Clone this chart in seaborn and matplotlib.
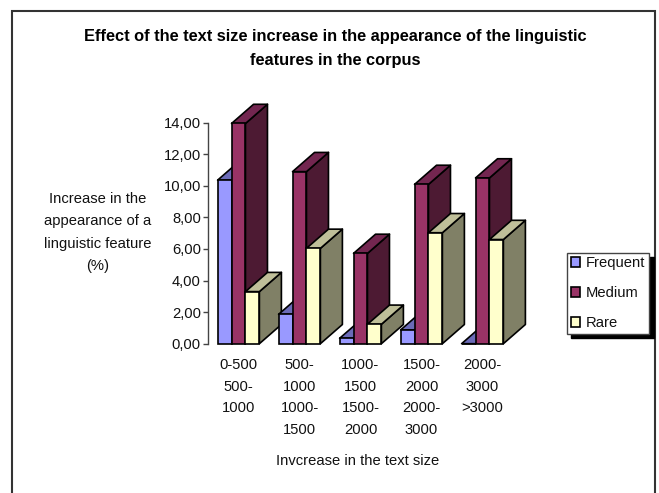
import matplotlib
matplotlib.use("Agg")
import matplotlib.pyplot as plt
from matplotlib.patches import Polygon, Rectangle, Patch
import pandas as pd
import seaborn as sns

# Text-size ranges and the increase (%) for each feature frequency class
size_ranges = ["0-500\n500-\n1000", "500-\n1000\n1000-\n1500", "1000-\n1500\n1500-\n2000",
               "1500-\n2000\n2000-\n3000", "2000-\n3000\n>3000"]
frequent = [10.36, 1.86, 0.34, 0.87, 0.0]
medium = [13.95, 10.9, 5.72, 10.09, 10.5]
rare = [3.3, 6.04, 1.23, 7.03, 6.6]
classes = ["Frequent", "Medium", "Rare"]
ytick_values = [0, 2, 4, 6, 8, 10, 12, 14]

front_colors = ["#9999FF", "#993366", "#FFFFCC"]
top_colors = ["#6B6BB8", "#732650", "#BFBF99"]
side_colors = ["#4D4D80", "#4D1A33", "#808066"]

W, H = 659, 493
sns.set_theme(style="white")
plt.rcParams["font.family"] = ["Liberation Sans", "DejaVu Sans"]
text_color = "#111111"

df = pd.DataFrame({
    "range": size_ranges * 3,
    "class": [c for c in classes for _ in size_ranges],
    "value": frequent + medium + rare,
})

fig = plt.figure(figsize=(W / 100, H / 100), dpi=100, facecolor="white")
ax = fig.add_axes([208 / W, 1 - 343.7 / H, 305 / W, 221 / H])
ax.patch.set_alpha(0)

sns.barplot(data=df, x="range", y="value", hue="class", hue_order=classes,
            palette=front_colors, saturation=1, width=0.685, gap=0,
            edgecolor="black", linewidth=1.2, legend=False, errorbar=None, ax=ax)
ax.set_xlim(-0.5, 4.5)
ax.set_ylim(0, 14)

# Oblique extrusion of every bar: a top face and a side face behind the front
depth_x = 22 / 61
depth_y = 19.2 / (221 / 14)
order = 3
for group in range(len(size_ranges)):
    for k, container in enumerate(ax.containers):
        bar = container.patches[group]
        x0, x1 = bar.get_x(), bar.get_x() + bar.get_width()
        h = bar.get_height()
        side = Polygon([(x1, 0), (x1 + depth_x, depth_y), (x1 + depth_x, h + depth_y), (x1, h)],
                       facecolor=side_colors[k], edgecolor="black", linewidth=1.2,
                       clip_on=False, zorder=order, joinstyle="round")
        top = Polygon([(x0, h), (x0 + depth_x, h + depth_y), (x1 + depth_x, h + depth_y), (x1, h)],
                      facecolor=top_colors[k], edgecolor="black", linewidth=1.2,
                      clip_on=False, zorder=order + 0.1, joinstyle="round")
        ax.add_patch(side)
        ax.add_patch(top)
        bar.set_zorder(order + 0.2)
        bar.set_clip_on(False)
        order += 1

sns.despine(ax=ax, top=True, right=True, bottom=True)
ax.spines["left"].set_color("#444444")
ax.spines["left"].set_linewidth(1)
ax.set_yticks(ytick_values)
ax.set_yticklabels([f"{v:.2f}".replace(".", ",") for v in ytick_values], fontsize=10.6, color=text_color)
ax.tick_params(axis="y", left=True, length=3.6, width=1, color="#444444", pad=1.5)
ax.tick_params(axis="x", bottom=False, pad=4.5)
ax.set_xticks(range(len(size_ranges)))
ax.set_xticklabels(size_ranges, fontsize=10.6, color=text_color, linespacing=1.68, va="top")
ax.set_xlabel("")
ax.set_ylabel("")


def px_text(x, y, s, **kw):
    fig.text(x / W, 1 - y / H, s, ha="center", va="center", color=kw.pop("color", text_color), **kw)


px_text(335.5, 48.5, "Effect of the text size increase in the appearance of the linguistic\nfeatures in the corpus",
        fontsize=11.75, fontweight="bold", color="black", linespacing=1.82)
px_text(98, 232.5, "Increase in the\nappearance of a\nlinguistic feature\n(%)", fontsize=10.6, linespacing=1.75)
px_text(358, 461, "Invcrease in the text size", fontsize=10.6)

# Outer chart frame, running off the lower edge
fig.add_artist(Rectangle((12 / W, -0.05), 643 / W, 1 - 11 / H + 0.05, transform=fig.transFigure,
                         fill=False, edgecolor="#333333", linewidth=1.5))

handles = [Patch(facecolor=c, edgecolor="black", linewidth=1.2) for c in front_colors]
legend = fig.legend(handles, classes, loc="lower left", bbox_to_anchor=(567 / W, 1 - 334 / H),
                    bbox_transform=fig.transFigure, fontsize=10.6, fancybox=False,
                    edgecolor="#444444", facecolor="white", framealpha=1,
                    shadow={"ox": 3, "oy": -3, "color": "black", "alpha": 1, "shade": 1.0},
                    handlelength=0.62, handleheight=0.7, handletextpad=0.42,
                    labelspacing=1.08, borderpad=0.26, borderaxespad=0, labelcolor=text_color)

fig.savefig("out.png", dpi=100)
